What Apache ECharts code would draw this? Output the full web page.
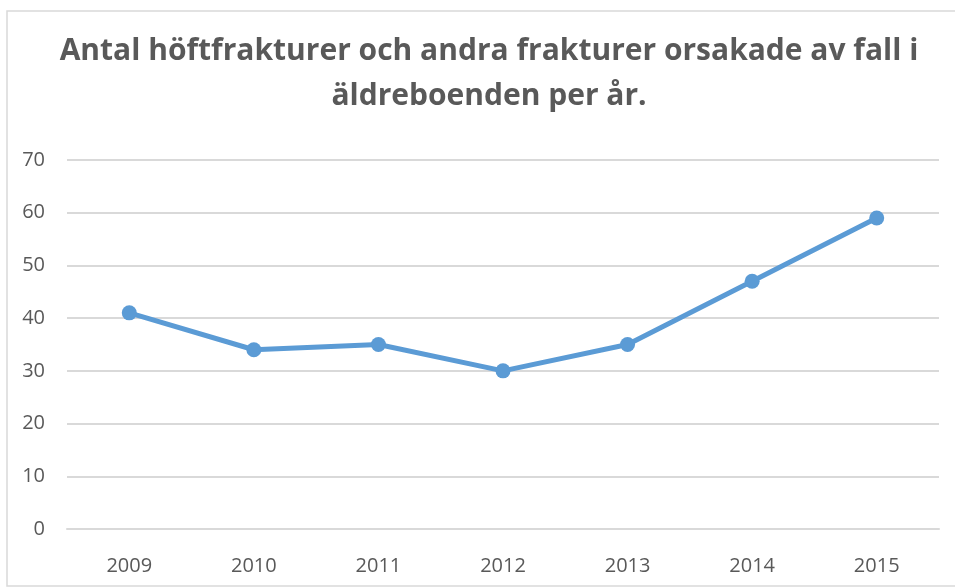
<!DOCTYPE html>
<html>
<head>
<meta charset="utf-8">
<script src="https://cdn.jsdelivr.net/npm/echarts@6/dist/echarts.min.js"></script>
<style>
  html, body { margin: 0; padding: 0; background: #fff; }
  #chart { width: 955px; height: 587px; }
</style>
</head>
<body>
<div id="chart"></div>
<script>
// årtal och antal frakturer
const years = ['2009', '2010', '2011', '2012', '2013', '2014', '2015'];
const fractures = [41, 34, 35, 30, 35, 47, 59];
const titleText = 'Antal höftfrakturer och andra frakturer orsakade av fall i\näldreboenden per år.';

const chart = echarts.init(document.getElementById('chart'));

const option = {
  animation: false,
  textStyle: { fontFamily: 'Open Sans' },
  title: {
    text: titleText,
    left: 484,
    top: 24,
    textAlign: 'center',
    textStyle: {
      fontFamily: 'Open Sans',
      fontSize: 30,
      fontWeight: 'bold',
      color: '#595959',
      lineHeight: 45
    }
  },
  graphic: [{
    type: 'rect',
    shape: { x: 7, y: 11, width: 960, height: 575 },
    style: { fill: 'none', stroke: '#d9d9d9', lineWidth: 1.5 },
    silent: true
  }],
  grid: { left: 67, right: 16, top: 160, bottom: 58 },
  xAxis: {
    type: 'category',
    data: years,
    boundaryGap: true,
    axisLine: { show: true, lineStyle: { color: '#d9d9d9', width: 2 } },
    axisTick: { show: false },
    axisLabel: { color: '#595959', fontSize: 20, margin: 27 }
  },
  yAxis: {
    type: 'value',
    min: 0,
    max: 70,
    interval: 10,
    axisLine: { show: false },
    axisTick: { show: false },
    axisLabel: { color: '#595959', fontSize: 20, margin: 22 },
    splitLine: { lineStyle: { color: '#d9d9d9', width: 2 } }
  },
  series: [{
    type: 'line',
    data: fractures,
    symbol: 'circle',
    symbolSize: 15,
    lineStyle: { color: '#5b9bd5', width: 5 },
    itemStyle: { color: '#5b9bd5' }
  }]
};

chart.setOption(option);
</script>
</body>
</html>
